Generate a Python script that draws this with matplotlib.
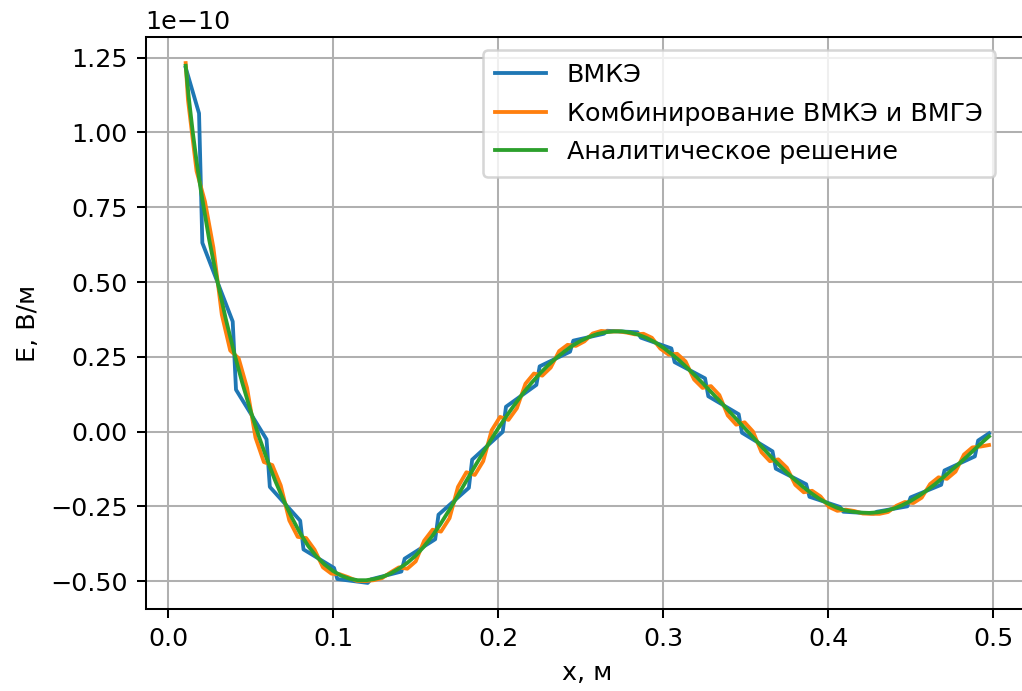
import matplotlib
matplotlib.use("Agg")
import matplotlib.pyplot as plt
import numpy as np

SCALE = 1e-10  # values below are given in units of 1e-10 V/m

# ---- ВМКЭ (piecewise, discontinuous between elements) ----
fem_x = [0.0107, 0.0188, 0.0208, 0.0392, 0.0412, 0.0597, 0.0617, 0.0801, 0.0821, 0.1006,
         0.1026, 0.1210, 0.1230, 0.1414, 0.1434, 0.1619, 0.1639, 0.1823, 0.1843, 0.2028,
         0.2048, 0.2232, 0.2252, 0.2436, 0.2456, 0.2641, 0.2661, 0.2845, 0.2865, 0.3050,
         0.3070, 0.3254, 0.3274, 0.3458, 0.3478, 0.3663, 0.3683, 0.3867, 0.3887, 0.4072,
         0.4092, 0.4276, 0.4296, 0.4480, 0.4500, 0.4685, 0.4705, 0.4889, 0.4909, 0.4975]
fem_y = [1.217, 1.064, 0.631, 0.368, 0.140, -0.026, -0.185, -0.298, -0.394, -0.456,
         -0.493, -0.506, -0.494, -0.468, -0.425, -0.360, -0.278, -0.188, -0.094, -0.001,
         0.083, 0.156, 0.218, 0.267, 0.304, 0.327, 0.337, 0.332, 0.314, 0.278,
         0.232, 0.178, 0.118, 0.058, -0.004, -0.066, -0.124, -0.176, -0.218, -0.252,
         -0.268, -0.274, -0.268, -0.250, -0.220, -0.178, -0.130, -0.083, -0.030, -0.006]

# ---- Комбинирование ВМКЭ и ВМГЭ ----
comb_x = [0.0107, 0.0121, 0.0173, 0.0224, 0.0275, 0.0326, 0.0377, 0.0428, 0.0479, 0.0530,
          0.0581, 0.0632, 0.0683, 0.0735, 0.0786, 0.0837, 0.0888, 0.0939, 0.0990, 0.1041,
          0.1092, 0.1143, 0.1194, 0.1246, 0.1297, 0.1348, 0.1399, 0.1450, 0.1501, 0.1552,
          0.1603, 0.1654, 0.1706, 0.1757, 0.1808, 0.1859, 0.1910, 0.1961, 0.2012, 0.2063,
          0.2114, 0.2166, 0.2217, 0.2268, 0.2319, 0.2370, 0.2421, 0.2472, 0.2523, 0.2574,
          0.2625, 0.2676, 0.2728, 0.2779, 0.2830, 0.2881, 0.2932, 0.2983, 0.3034, 0.3085,
          0.3136, 0.3188, 0.3239, 0.3290, 0.3341, 0.3392, 0.3443, 0.3494, 0.3545, 0.3596,
          0.3647, 0.3698, 0.3750, 0.3801, 0.3852, 0.3903, 0.3954, 0.4005, 0.4056, 0.4107,
          0.4158, 0.4210, 0.4261, 0.4312, 0.4363, 0.4414, 0.4465, 0.4516, 0.4567, 0.4618,
          0.4669, 0.4720, 0.4772, 0.4823, 0.4874, 0.4925, 0.4975]
comb_y = [1.232, 1.109, 0.871, 0.769, 0.615, 0.391, 0.271, 0.245, 0.146, -0.020,
          -0.102, -0.112, -0.180, -0.297, -0.352, -0.356, -0.395, -0.454, -0.475, -0.477,
          -0.487, -0.499, -0.500, -0.497, -0.490, -0.471, -0.454, -0.4585, -0.434, -0.365,
          -0.328, -0.3345, -0.2895, -0.185, -0.136, -0.145, -0.099, 0.004, 0.049, 0.039,
          0.078, 0.160, 0.194, 0.187, 0.214, 0.269, 0.290, 0.2865, 0.3015, 0.328,
          0.3365, 0.334, 0.335, 0.331, 0.325, 0.327, 0.3136, 0.2774, 0.257, 0.260,
          0.2346, 0.174, 0.146, 0.152, 0.122, 0.054, 0.023, 0.031, 0.000, -0.069,
          -0.099, -0.093, -0.121, -0.178, -0.203, -0.198, -0.217, -0.252, -0.265, -0.261,
          -0.2655, -0.274, -0.275, -0.275, -0.269, -0.248, -0.2355, -0.239, -0.221, -0.1755,
          -0.153, -0.158, -0.134, -0.077, -0.053, -0.050, -0.045]

# ---- Аналитическое решение ----
an_x = [0.0107, 0.0125, 0.015, 0.0175, 0.02, 0.025, 0.03, 0.035, 0.04, 0.045,
        0.05, 0.055, 0.06, 0.065, 0.07, 0.075, 0.08, 0.085, 0.09, 0.095,
        0.10, 0.105, 0.11, 0.115, 0.12, 0.125, 0.13, 0.135, 0.14, 0.145,
        0.15, 0.155, 0.16, 0.165, 0.17, 0.175, 0.18, 0.185, 0.19, 0.195,
        0.20, 0.205, 0.21, 0.215, 0.22, 0.225, 0.23, 0.235, 0.24, 0.245,
        0.25, 0.255, 0.26, 0.265, 0.27, 0.275, 0.28, 0.285, 0.29, 0.295,
        0.30, 0.305, 0.31, 0.315, 0.32, 0.325, 0.33, 0.335, 0.34, 0.345,
        0.35, 0.355, 0.36, 0.365, 0.37, 0.375, 0.38, 0.385, 0.39, 0.395,
        0.40, 0.405, 0.41, 0.415, 0.42, 0.425, 0.43, 0.435, 0.44, 0.445,
        0.45, 0.455, 0.46, 0.465, 0.47, 0.475, 0.48, 0.485, 0.49, 0.495, 0.4975]
an_y = [1.223, 1.121, 1.001, 0.896, 0.803, 0.640, 0.501, 0.377, 0.265, 0.163,
        0.070, -0.015, -0.093, -0.165, -0.229, -0.287, -0.339, -0.383, -0.418, -0.445,
        -0.466, -0.482, -0.492, -0.497, -0.497, -0.493, -0.486, -0.474, -0.458, -0.439,
        -0.415, -0.385, -0.350, -0.310, -0.266, -0.220, -0.172, -0.125, -0.079, -0.034,
        0.010, 0.051, 0.090, 0.127, 0.161, 0.192, 0.220, 0.245, 0.267, 0.287,
        0.303, 0.316, 0.326, 0.332, 0.335, 0.335, 0.331, 0.324, 0.313, 0.299,
        0.281, 0.260, 0.237, 0.211, 0.184, 0.156, 0.127, 0.098, 0.068, 0.038,
        0.008, -0.022, -0.052, -0.082, -0.110, -0.137, -0.162, -0.186, -0.207, -0.226,
        -0.241, -0.254, -0.263, -0.268, -0.271, -0.272, -0.270, -0.265, -0.257, -0.246,
        -0.232, -0.215, -0.196, -0.175, -0.152, -0.128, -0.104, -0.079, -0.053, -0.028, -0.016]

labels = ["ВМКЭ", "Комбинирование ВМКЭ и ВМГЭ", "Аналитическое решение"]
xlabel = "x, м"
ylabel = "E, В/м"

W, H, DPI = 1022, 691, 183
fig = plt.figure(figsize=(W / DPI, H / DPI), dpi=DPI)
ax = fig.add_axes([145.5 / W, 82.1 / H, 883.7 / W, 571.8 / H])

ax.plot(fem_x, np.array(fem_y) * SCALE, color="#1f77b4", lw=1.5, label=labels[0])
ax.plot(comb_x, np.array(comb_y) * SCALE, color="#ff7f0e", lw=1.5, label=labels[1])
ax.plot(an_x, np.array(an_y) * SCALE, color="#2ca02c", lw=1.5, label=labels[2])

ax.grid(True)
ax.set_xlabel(xlabel)
ax.set_ylabel(ylabel)
ax.legend(loc="upper right", bbox_to_anchor=(995 / W, 1 - 50 / H),
          bbox_transform=fig.transFigure, borderaxespad=0,
          labelspacing=0.56, borderpad=0.5)

fig.savefig("out.png", dpi=DPI)
